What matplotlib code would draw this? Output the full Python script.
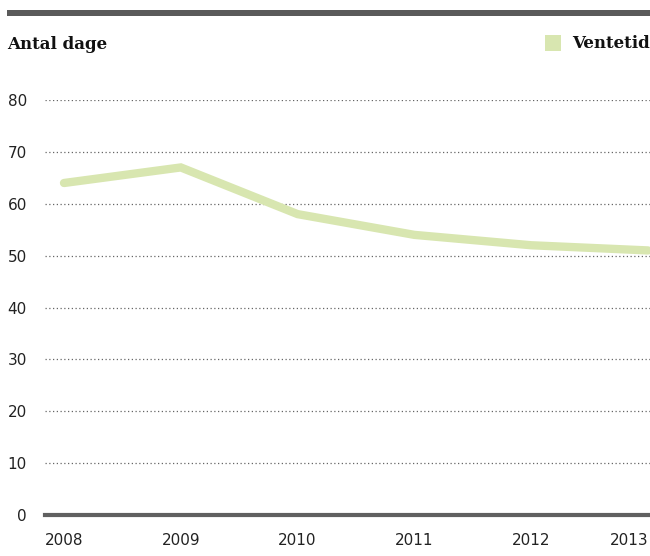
import matplotlib.pyplot as plt
from matplotlib.patches import Rectangle

years = [2008, 2009, 2010, 2011, 2012, 2013]
ventetid = [64, 67, 58, 54, 52, 51]
yticks = [0, 10, 20, 30, 40, 50, 60, 70, 80]

W, H = 650, 556
fig = plt.figure(figsize=(6.5, 5.56), dpi=100)

# axes box: left 45px, right 650px, y=0 at 515px, y=80 at 100px
ax = fig.add_axes([45 / W, (H - 515) / H, 605 / W, 415 / H])
ax.set_xlim(2008 - 19 / 116.8, 2013 + 2 / 116.8)
ax.set_ylim(0, 80)

for v in yticks[1:]:
    ax.axhline(v, color='#666666', lw=0.9, ls=(0, (1, 2)), zorder=1)
ax.axhline(0, color='#606060', lw=3, zorder=3, clip_on=False)

ax.plot(years, ventetid, color='#d8e6b0', lw=6, solid_joinstyle='miter',
        solid_capstyle='round', zorder=2, clip_on=False)

for s in ax.spines.values():
    s.set_visible(False)
ax.set_yticks(yticks)
ax.set_xticks(years)
ax.tick_params(length=0, labelsize=11, colors='#222222')
ax.tick_params(axis='y', pad=13)
ax.tick_params(axis='x', pad=13)
ax.get_xticklabels()[-1].set_ha('right')
ax.get_xticklabels()[-1].set_x(2013 + 2 / 116.8)

# top bar
fig.add_artist(Rectangle((7 / W, 1 - 16 / H), 643 / W, 6 / H,
                         transform=fig.transFigure, color='#5a5a5a', lw=0))
fig.text(7 / W, 1 - 45 / H, 'Antal dage', fontsize=12, fontweight='bold',
         family='DejaVu Serif', va='center', ha='left', color='#111111')

# legend
fig.add_artist(Rectangle((545 / W, 1 - 51 / H), 16 / W, 16 / H,
                         transform=fig.transFigure, color='#d8e6b0', lw=0))
fig.text(650 / W, 1 - 44 / H, 'Ventetid', fontsize=12, fontweight='bold',
         family='DejaVu Serif', va='center', ha='right', color='#111111')

fig.savefig('out.png', dpi=100)
